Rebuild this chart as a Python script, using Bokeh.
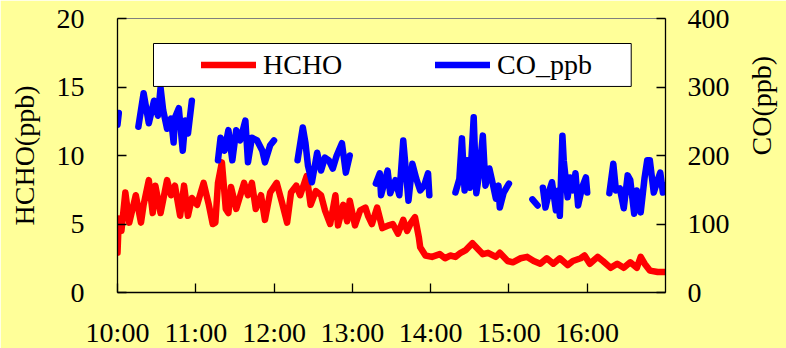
import math
import numpy as np
from bokeh.plotting import figure
from bokeh.models import (Range1d, LinearAxis, FixedTicker, Legend, LegendItem,
                          BoxAnnotation, ColumnDataSource)
from bokeh.embed import file_html
from bokeh.resources import INLINE

# ---- data (minutes after 10:00) ----
hcho_min = [0, 1, 3, 6, 9, 14, 18, 20, 24, 27,
            29, 33, 38, 41, 44, 48, 51, 54, 57, 61,
            66, 70, 73, 75, 77, 80, 83, 85, 87, 91,
            97, 100, 103, 106, 110, 113, 117, 122, 126, 130,
            133, 137, 140, 145, 148, 152, 156, 159, 163, 167,
            169, 173, 176, 178, 182, 186, 190, 192, 195, 199,
            203, 208, 211, 215, 219, 222, 225, 228, 231, 232,
            236, 241, 247, 251, 255, 259, 263, 267, 269, 272,
            276, 280, 284, 290, 293, 299, 303, 309, 314, 319,
            324, 329, 334, 339, 345, 349, 355, 358, 362, 368,
            372, 378, 383, 388, 393, 398, 401, 404, 408, 414,
            420]
hcho_ppb = [2.9, 5.4, 4.5, 7.3, 5.1, 7.1, 5.1, 6.4, 8.2, 5.8,
            7.8, 5.8, 8.2, 7.1, 7.8, 5.6, 7.8, 5.6, 6.9, 6.4,
            8.0, 6.4, 5.0, 5.1, 8.0, 9.5, 6.1, 5.8, 7.7, 6.1,
            8.0, 7.1, 8.0, 6.1, 7.1, 5.3, 7.3, 8.0, 6.6, 5.1,
            7.3, 7.8, 7.1, 8.5, 6.4, 7.4, 7.1, 6.0, 5.0, 7.1,
            4.9, 6.4, 5.2, 6.7, 4.9, 6.0, 6.2, 5.6, 5.0, 6.2,
            4.7, 4.9, 5.0, 4.3, 5.3, 4.5, 5.1, 5.5, 4.0, 3.3,
            2.7, 2.6, 2.8, 2.5, 2.7, 2.6, 2.9, 3.1, 3.3, 3.6,
            3.2, 2.8, 2.9, 2.6, 2.9, 2.3, 2.2, 2.5, 2.6, 2.3,
            2.1, 2.5, 2.1, 2.5, 2.0, 2.3, 2.5, 2.7, 2.1, 2.6,
            2.3, 1.8, 2.1, 1.8, 2.2, 1.8, 2.6, 2.1, 1.6, 1.5,
            1.5]

# CO series: None marks gaps in the record
co_min = [0, 1, None,
          16, 20, 24, 28, 31, 33, 35, 38, 41, 43, 44, 47, 50, 52, 54, 57, None,
          77, 79, 82, 85, 88, 91, 94, 98, 100, 103, 107, 111, 113, 117, 120, None,
          138, 142, 144, 146, 149, 153, 156, 159, 162, 165, 168, 172, 175, 178, None,
          198, 201, 202, 207, 209, 213, 216, 219, 221, 223, 226, 229, 232, 235, 238, 239, None,
          259, 262, 264, 266, 268, 270, 273, 275, 277, 280, 282, 285, 287, 290, 292, 293, 296, 300, None,
          318, 322, None,
          326, 328, 331, 333, 336, 338, 339, 341, 342, 345, 347, 349, 351, 353, 356, 359, 360, None,
          377, 380, 382, 385, 388, 391, 393, 396, 398, 401, 404, 406, 408, 411, 414, 416, 418, 420]
co_ppb = [245, 262, None,
          242, 291, 247, 280, 258, 299, 266, 239, 254, 219, 255, 269, 207, 251, 232, 280, None,
          193, 226, 207, 237, 193, 237, 222, 251, 190, 226, 222, 207, 190, 215, 222, None,
          193, 241, 219, 185, 161, 204, 178, 197, 193, 181, 200, 218, 175, 200, None,
          159, 174, 142, 178, 145, 164, 142, 222, 178, 134, 188, 166, 149, 156, 174, 142, None,
          146, 166, 225, 149, 193, 153, 256, 145, 171, 229, 156, 181, 164, 137, 156, 124, 146, 159, None,
          136, 127, None,
          153, 124, 149, 161, 120, 149, 112, 229, 193, 139, 168, 149, 174, 127, 153, 168, 146, None,
          145, 188, 149, 152, 123, 171, 164, 115, 149, 117, 168, 193, 193, 146, 164, 175, 146, 156]

hour_ticks = [10, 11, 12, 13, 14, 15, 16]
hour_labels = ["10:00", "11:00", "12:00", "13:00", "14:00", "15:00", "16:00"]
hcho_ticks = [0, 5, 10, 15, 20]
co_ticks = [0, 100, 200, 300, 400]

BG = "#FFFF99"
FONT = "Liberation Serif"
FS = "28px"

hcho_src = ColumnDataSource(dict(
    x=10 + np.array(hcho_min, dtype=float) / 60.0,
    y=np.array(hcho_ppb, dtype=float)))
co_src = ColumnDataSource(dict(
    x=10 + np.array([np.nan if v is None else v for v in co_min], dtype=float) / 60.0,
    y=np.array([np.nan if v is None else v for v in co_ppb], dtype=float)))

p = figure(frame_width=548, frame_height=274,
           x_range=Range1d(10, 17), y_range=Range1d(0, 20),
           output_backend="svg", toolbar_location=None,
           min_border_left=117, min_border_right=110,
           min_border_top=18, min_border_bottom=40,
           background_fill_color=BG, border_fill_color=BG)
p.grid.visible = False
p.outline_line_color = "#808080"
p.outline_line_width = 1

p.extra_y_ranges = {"co": Range1d(0, 400)}

box = BoxAnnotation(left=10.46, right=16.562, bottom=15.04, top=18.175,
                    fill_color="white", fill_alpha=1.0,
                    line_color="black", line_alpha=1.0, line_width=1)
p.add_layout(box)

r_h = p.line("x", "y", source=hcho_src, line_color="#FF0000", line_width=6.5,
             line_join="round", line_cap="round")
r_c = p.line("x", "y", source=co_src, y_range_name="co", line_color="#0000FF",
             line_width=6.5, line_join="round", line_cap="round")

def style_axis(ax):
    ax.major_tick_in = 9
    ax.major_tick_out = 0
    ax.minor_tick_in = 0
    ax.minor_tick_out = 0
    ax.axis_line_color = "black"
    ax.axis_line_width = 1.3
    ax.major_tick_line_color = "black"
    ax.major_tick_line_width = 1.3
    ax.major_label_text_font = FONT
    ax.major_label_text_font_size = FS
    ax.major_label_text_color = "black"
    ax.axis_label_text_font = FONT
    ax.axis_label_text_font_size = FS
    ax.axis_label_text_font_style = "normal"
    ax.axis_label_text_color = "black"

xa = p.xaxis[0]
xa.ticker = FixedTicker(ticks=hour_ticks)
xa.major_label_overrides = {t: l for t, l in zip(hour_ticks, hour_labels)}
style_axis(xa)
xa.major_label_standoff = 24

ya = p.yaxis[0]
ya.ticker = FixedTicker(ticks=hcho_ticks)
ya.axis_label = "HCHO(ppb)"
style_axis(ya)
ya.major_label_standoff = 33
ya.axis_label_standoff = 14

yr = LinearAxis(y_range_name="co", axis_label="CO(ppb)")
yr.ticker = FixedTicker(ticks=co_ticks)
style_axis(yr)
yr.major_label_standoff = 22
yr.axis_label_standoff = 29
yr.axis_label_orientation = math.pi / 2
p.add_layout(yr, "right")

legend = Legend(items=[LegendItem(label="HCHO", renderers=[r_h]),
                       LegendItem(label="CO_ppb", renderers=[r_c])],
                orientation="horizontal", location=(79, 206),
                padding=5, spacing=92, margin=0,
                glyph_width=55, glyph_height=33,
                label_height=33, label_width=80, label_standoff=7,
                border_line_alpha=0, background_fill_alpha=0,
                label_text_font=FONT, label_text_font_size=FS,
                label_text_color="black")
p.add_layout(legend, "center")

open("out.html", "w").write(file_html(p, INLINE))
